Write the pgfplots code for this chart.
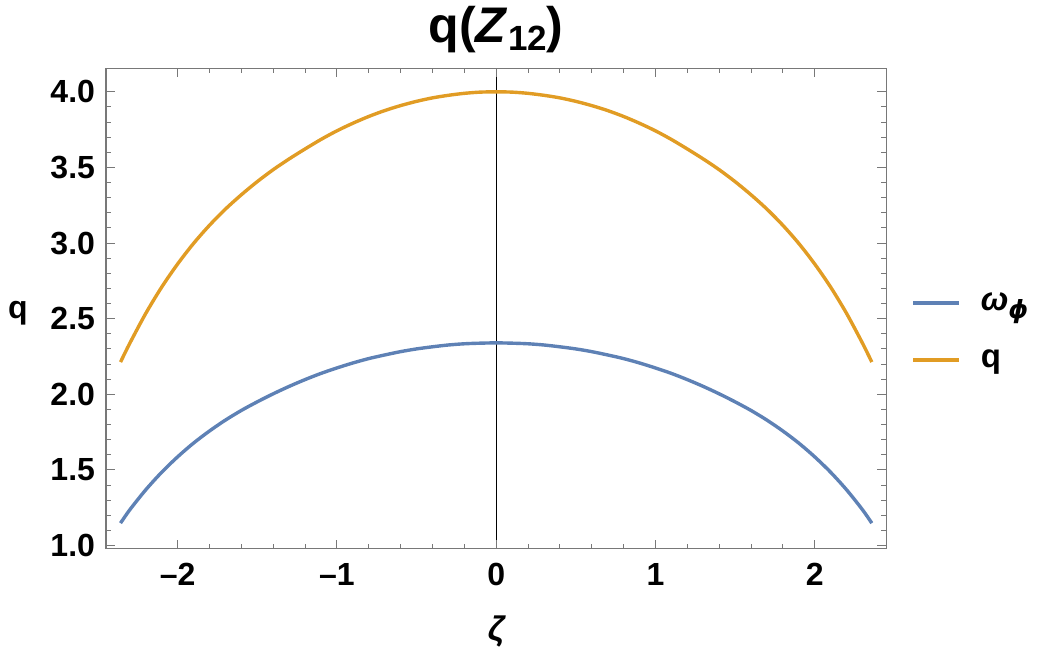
\documentclass[border=0pt]{standalone}
\usepackage{fontspec}
\setmainfont{Liberation Sans}
\newfontfamily\dejavu{DejaVu Sans}
\usepackage{pgfplots}
\pgfplotsset{compat=1.18}
\definecolor{mblue}{RGB}{94,129,181}
\definecolor{morange}{RGB}{225,156,36}
\definecolor{framegray}{RGB}{120,120,120}

\begin{document}
\begin{tikzpicture}
\begin{axis}[
    scale only axis, width=390pt, height=240pt,
    xmin=-2.449, xmax=2.449, ymin=0.98, ymax=4.155,
    xtick={-2,-1,0,1,2}, xticklabels={–2,–1,0,1,2},
    ytick={1,1.5,2,2.5,3,3.5,4},
    minor x tick num=4, minor y tick num=4,
    tick align=inside, major tick length=4.5pt, minor tick length=2.5pt,
    tick style={framegray, line width=0.5pt},
    axis line style={framegray, line width=0.6pt},
    /pgf/number format/assume math mode=true,
    yticklabel={\pgfmathprintnumber[fixed, fixed zerofill, precision=1]{\tick}},
    ticklabel style={font=\bfseries\fontsize{16}{16}\selectfont},
    yticklabel style={xshift=-2pt},
    xticklabel style={yshift=-4pt},
    extra x ticks={0}, extra x tick labels={},
    extra x tick style={grid=major, major grid style={black, line width=0.6pt}},
    title={\bfseries\fontsize{25}{25}\selectfont q(\textit{Z}\raisebox{-4pt}{\fontsize{17.5}{17.5}\selectfont 12})},
    title style={at={(axis description cs:0.5,1.055)}, anchor=center},
    xlabel={\bfseries\itshape\fontsize{17}{17}\selectfont ζ},
    xlabel style={at={(axis description cs:0.5,-0.173)}, anchor=center},
    ylabel={\bfseries\fontsize{16}{16}\selectfont q},
    ylabel style={rotate=-90, at={(axis description cs:-0.113,0.49)}, anchor=center},
    legend style={draw=none, fill=none, at={(axis description cs:1.024,0.452)}, anchor=west,
        font=\bfseries\fontsize{16.5}{16.5}\selectfont, row sep=14pt,
        /tikz/every odd column/.append style={column sep=8pt}},
    legend cell align=left,
    legend image code/.code={\draw[#1] (0pt,0pt) -- (23pt,0pt);},
]
\addplot[mblue, line width=1.7pt, smooth] coordinates {
    (-2.358,1.148) (-2.3,1.236) (-2.2,1.368) (-2.1,1.484) (-2.0,1.586)
    (-1.9,1.677) (-1.8,1.757) (-1.7,1.829) (-1.6,1.893) (-1.5,1.950)
    (-1.4,2.003) (-1.3,2.052) (-1.2,2.097) (-1.1,2.138) (-1.0,2.174)
    (-0.9,2.207) (-0.8,2.236) (-0.7,2.260) (-0.6,2.282) (-0.5,2.300)
    (-0.4,2.314) (-0.3,2.326) (-0.2,2.334) (-0.1,2.338) (0,2.340)
    (0.1,2.338) (0.2,2.334) (0.3,2.326) (0.4,2.314) (0.5,2.300)
    (0.6,2.282) (0.7,2.260) (0.8,2.236) (0.9,2.207) (1.0,2.174)
    (1.1,2.138) (1.2,2.097) (1.3,2.052) (1.4,2.003) (1.5,1.950)
    (1.6,1.893) (1.7,1.829) (1.8,1.757) (1.9,1.677) (2.0,1.586)
    (2.1,1.484) (2.2,1.368) (2.3,1.236) (2.358,1.148)
};
\addlegendentry{\itshape ω\raisebox{-4pt}{\dejavu\bfseries\itshape\fontsize{12.5}{12.5}\selectfont ϕ}}
\addplot[morange, line width=1.7pt, smooth] coordinates {
    (-2.358,2.213) (-2.3,2.337) (-2.2,2.534) (-2.1,2.708) (-2.0,2.861)
    (-1.9,2.997) (-1.8,3.117) (-1.7,3.224) (-1.6,3.319) (-1.5,3.406)
    (-1.4,3.485) (-1.3,3.556) (-1.2,3.622) (-1.1,3.685) (-1.0,3.742)
    (-0.9,3.792) (-0.8,3.837) (-0.7,3.876) (-0.6,3.909) (-0.5,3.937)
    (-0.4,3.960) (-0.3,3.977) (-0.2,3.990) (-0.1,3.998) (0,4.000)
    (0.1,3.998) (0.2,3.990) (0.3,3.977) (0.4,3.960) (0.5,3.937)
    (0.6,3.909) (0.7,3.876) (0.8,3.837) (0.9,3.792) (1.0,3.742)
    (1.1,3.685) (1.2,3.622) (1.3,3.556) (1.4,3.485) (1.5,3.406)
    (1.6,3.319) (1.7,3.224) (1.8,3.117) (1.9,2.997) (2.0,2.861)
    (2.1,2.708) (2.2,2.534) (2.3,2.337) (2.358,2.213)
};
\addlegendentry{q}
\coordinate (bl) at (rel axis cs:-0.1359,-0.256);
\coordinate (tr) at (rel axis cs:1.197,1.1396);
\end{axis}
\path (bl) rectangle (tr);
\end{tikzpicture}
\end{document}
